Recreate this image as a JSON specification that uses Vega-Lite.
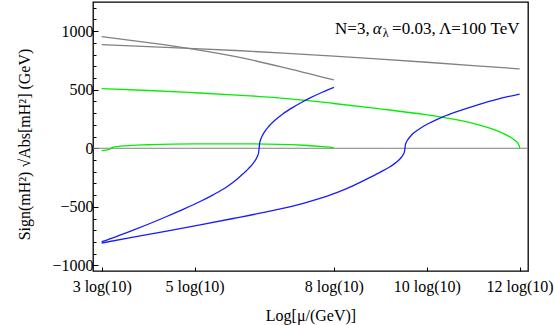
{
  "$schema": "https://vega.github.io/schema/vega-lite/v6.json",
  "width": 435,
  "height": 269,
  "autosize": {"type": "none"},
  "padding": {"left": 93, "top": 2, "right": 26, "bottom": 54},
  "background": "white",
  "config": {
    "view": {"stroke": "black", "strokeWidth": 1.3},
    "font": "Liberation Serif",
    "axis": {
      "labelFont": "Liberation Serif",
      "titleFont": "Liberation Serif",
      "labelFontSize": 16,
      "titleFontSize": 16,
      "labelColor": "black",
      "titleColor": "black",
      "tickColor": "black",
      "grid": false,
      "domain": false,
      "titleFontWeight": "normal"
    }
  },
  "datasets": {
    "curves": [
      {"series": "grayA", "x": 3, "y": 952},
      {"series": "grayA", "x": 4, "y": 901},
      {"series": "grayA", "x": 5, "y": 844},
      {"series": "grayA", "x": 6, "y": 773},
      {"series": "grayA", "x": 7, "y": 682},
      {"series": "grayA", "x": 8, "y": 583},
      {"series": "grayB", "x": 3, "y": 884},
      {"series": "grayB", "x": 4, "y": 868},
      {"series": "grayB", "x": 5, "y": 851},
      {"series": "grayB", "x": 6, "y": 832},
      {"series": "grayB", "x": 7, "y": 810},
      {"series": "grayB", "x": 8, "y": 786},
      {"series": "grayB", "x": 9, "y": 761},
      {"series": "grayB", "x": 10, "y": 734},
      {"series": "grayB", "x": 11, "y": 706},
      {"series": "grayB", "x": 12, "y": 677},
      {"series": "greenU", "x": 3, "y": 509},
      {"series": "greenU", "x": 4, "y": 493},
      {"series": "greenU", "x": 5, "y": 474},
      {"series": "greenU", "x": 6, "y": 452},
      {"series": "greenU", "x": 7, "y": 424},
      {"series": "greenU", "x": 8, "y": 382},
      {"series": "greenU", "x": 9, "y": 336},
      {"series": "greenU", "x": 10, "y": 285},
      {"series": "greenU", "x": 10.5, "y": 253},
      {"series": "greenU", "x": 11, "y": 212},
      {"series": "greenU", "x": 11.4, "y": 166},
      {"series": "greenU", "x": 11.7, "y": 117},
      {"series": "greenU", "x": 11.8, "y": 95},
      {"series": "greenU", "x": 11.9, "y": 67},
      {"series": "greenU", "x": 11.95, "y": 48},
      {"series": "greenU", "x": 11.98, "y": 30},
      {"series": "greenU", "x": 11.995, "y": 15},
      {"series": "greenU", "x": 12, "y": 0},
      {"series": "greenL", "x": 3, "y": -20},
      {"series": "greenL", "x": 3.1, "y": -15},
      {"series": "greenL", "x": 3.17, "y": -8},
      {"series": "greenL", "x": 3.2, "y": 0},
      {"series": "greenL", "x": 3.24, "y": 8},
      {"series": "greenL", "x": 3.35, "y": 15},
      {"series": "greenL", "x": 3.5, "y": 21},
      {"series": "greenL", "x": 4, "y": 30},
      {"series": "greenL", "x": 5, "y": 38},
      {"series": "greenL", "x": 6, "y": 38},
      {"series": "greenL", "x": 6.84, "y": 34},
      {"series": "greenL", "x": 7.34, "y": 26},
      {"series": "greenL", "x": 7.77, "y": 14},
      {"series": "greenL", "x": 7.95, "y": 7},
      {"series": "greenL", "x": 8, "y": 0},
      {"series": "blueA", "x": 3, "y": -797},
      {"series": "blueA", "x": 3.3, "y": -755},
      {"series": "blueA", "x": 3.68, "y": -698},
      {"series": "blueA", "x": 4.0, "y": -648},
      {"series": "blueA", "x": 4.4, "y": -582},
      {"series": "blueA", "x": 4.8, "y": -513},
      {"series": "blueA", "x": 5.12, "y": -454},
      {"series": "blueA", "x": 5.4, "y": -397},
      {"series": "blueA", "x": 5.69, "y": -330},
      {"series": "blueA", "x": 5.9, "y": -269},
      {"series": "blueA", "x": 6.05, "y": -216},
      {"series": "blueA", "x": 6.12, "y": -190},
      {"series": "blueA", "x": 6.2, "y": -158},
      {"series": "blueA", "x": 6.26, "y": -129},
      {"series": "blueA", "x": 6.3, "y": -108},
      {"series": "blueA", "x": 6.33, "y": -88},
      {"series": "blueA", "x": 6.36, "y": -62},
      {"series": "blueA", "x": 6.38, "y": -36},
      {"series": "blueA", "x": 6.39, "y": 0},
      {"series": "blueA", "x": 6.4, "y": 41},
      {"series": "blueA", "x": 6.42, "y": 71},
      {"series": "blueA", "x": 6.45, "y": 100},
      {"series": "blueA", "x": 6.5, "y": 136},
      {"series": "blueA", "x": 6.6, "y": 188},
      {"series": "blueA", "x": 6.75, "y": 246},
      {"series": "blueA", "x": 6.9, "y": 293},
      {"series": "blueA", "x": 7.1, "y": 345},
      {"series": "blueA", "x": 7.3, "y": 391},
      {"series": "blueA", "x": 7.5, "y": 432},
      {"series": "blueA", "x": 7.75, "y": 478},
      {"series": "blueA", "x": 8, "y": 520},
      {"series": "blueB", "x": 3, "y": -808},
      {"series": "blueB", "x": 3.68, "y": -758},
      {"series": "blueB", "x": 4.4, "y": -706},
      {"series": "blueB", "x": 5.12, "y": -653},
      {"series": "blueB", "x": 5.83, "y": -599},
      {"series": "blueB", "x": 6.62, "y": -536},
      {"series": "blueB", "x": 7.34, "y": -469},
      {"series": "blueB", "x": 7.7, "y": -427},
      {"series": "blueB", "x": 8.06, "y": -378},
      {"series": "blueB", "x": 8.42, "y": -318},
      {"series": "blueB", "x": 8.78, "y": -248},
      {"series": "blueB", "x": 9.0, "y": -203},
      {"series": "blueB", "x": 9.21, "y": -157},
      {"series": "blueB", "x": 9.3, "y": -133},
      {"series": "blueB", "x": 9.4, "y": -100},
      {"series": "blueB", "x": 9.46, "y": -74},
      {"series": "blueB", "x": 9.5, "y": -48},
      {"series": "blueB", "x": 9.52, "y": -28},
      {"series": "blueB", "x": 9.53, "y": 0},
      {"series": "blueB", "x": 9.54, "y": 30},
      {"series": "blueB", "x": 9.56, "y": 51},
      {"series": "blueB", "x": 9.6, "y": 78},
      {"series": "blueB", "x": 9.65, "y": 103},
      {"series": "blueB", "x": 9.71, "y": 128},
      {"series": "blueB", "x": 9.8, "y": 154},
      {"series": "blueB", "x": 9.95, "y": 192},
      {"series": "blueB", "x": 10.1, "y": 223},
      {"series": "blueB", "x": 10.36, "y": 270},
      {"series": "blueB", "x": 10.6, "y": 306},
      {"series": "blueB", "x": 10.86, "y": 341},
      {"series": "blueB", "x": 11.15, "y": 377},
      {"series": "blueB", "x": 11.43, "y": 408},
      {"series": "blueB", "x": 11.7, "y": 436},
      {"series": "blueB", "x": 12, "y": 463}
    ],
    "zero": [{"y": 0}],
    "note": [{"part": "main"}]
  },
  "layer": [
    {
      "data": {"name": "zero"},
      "mark": {"type": "rule", "color": "#808080", "strokeWidth": 1},
      "encoding": {
        "y": {
          "field": "y",
          "type": "quantitative",
          "scale": {"domain": [-1047, 1248], "nice": false, "zero": false},
          "axis": {
            "orient": "left",
            "values": [-1000, -900, -800, -700, -600, -500, -400, -300, -200, -100, 0, 100, 200, 300, 400, 500, 600, 700, 800, 900, 1000, 1100, 1200],
            "labels": false,
            "tickSize": -3,
            "tickWidth": 1,
            "title": null
          }
        }
      }
    },
    {
      "data": {"name": "curves"},
      "mark": {"type": "line", "interpolate": "monotone", "strokeWidth": 1.3},
      "encoding": {
        "x": {
          "field": "x",
          "type": "quantitative",
          "scale": {"domain": [2.813, 12.18], "nice": false, "zero": false},
          "axis": {
            "values": [3, 5, 8, 10, 12],
            "labelExpr": "datum.value + ' log(10)'",
            "tickSize": -4,
            "tickWidth": 1,
            "labelPadding": 11,
            "title": "Log[μ/(GeV)]",
            "titleY": 49,
            "titleBaseline": "alphabetic"
          }
        },
        "y": {
          "field": "y",
          "type": "quantitative",
          "scale": {"domain": [-1047, 1248], "nice": false, "zero": false},
          "axis": {
            "orient": "left",
            "values": [-1000, -500, 0, 500, 1000],
            "format": "d",
            "tickSize": -5,
            "tickWidth": 1,
            "labelPadding": 5,
            "title": "Sign(mH²) √Abs[mH²]   (GeV)",
            "titleAngle": -90,
            "titleX": -64,
            "titleY": 142,
            "titleAlign": "center",
            "titleBaseline": "alphabetic"
          }
        },
        "color": {
          "field": "series",
          "type": "nominal",
          "scale": {
            "domain": ["grayA", "grayB", "greenU", "greenL", "blueA", "blueB"],
            "range": ["#808080", "#808080", "#00f000", "#00f000", "#1a1aff", "#1a1aff"]
          },
          "legend": null
        }
      }
    },
    {
      "data": {"name": "note"},
      "layer": [
        {"mark": {"type": "text", "text": "=0.03, Λ=100 TeV", "align": "right", "baseline": "alphabetic", "font": "Liberation Serif", "fontSize": 17, "color": "black"}},
        {"mark": {"type": "text", "text": "λ", "align": "right", "baseline": "alphabetic", "font": "Liberation Serif", "fontSize": 12, "dx": -131, "dy": 3, "color": "black"}},
        {"mark": {"type": "text", "text": "α", "align": "right", "baseline": "alphabetic", "font": "Liberation Serif", "fontSize": 17, "fontStyle": "italic", "dx": -138, "color": "black"}},
        {"mark": {"type": "text", "text": "N=3,", "align": "right", "baseline": "alphabetic", "font": "Liberation Serif", "fontSize": 17, "dx": -150, "color": "black"}}
      ],
      "encoding": {
        "x": {
          "datum": 12,
          "type": "quantitative",
          "scale": {"domain": [2.813, 12.18], "nice": false, "zero": false},
          "axis": {
            "values": [3, 5, 8, 10, 12],
            "labelExpr": "datum.value + ' log(10)'",
            "tickSize": -4,
            "tickWidth": 1,
            "labelPadding": 11,
            "title": "Log[μ/(GeV)]",
            "titleY": 49,
            "titleBaseline": "alphabetic"
          }
        },
        "y": {"datum": 975, "type": "quantitative", "scale": {"domain": [-1047, 1248], "nice": false, "zero": false}, "axis": null}
      }
    }
  ],
  "resolve": {"axis": {"y": "independent"}}
}
